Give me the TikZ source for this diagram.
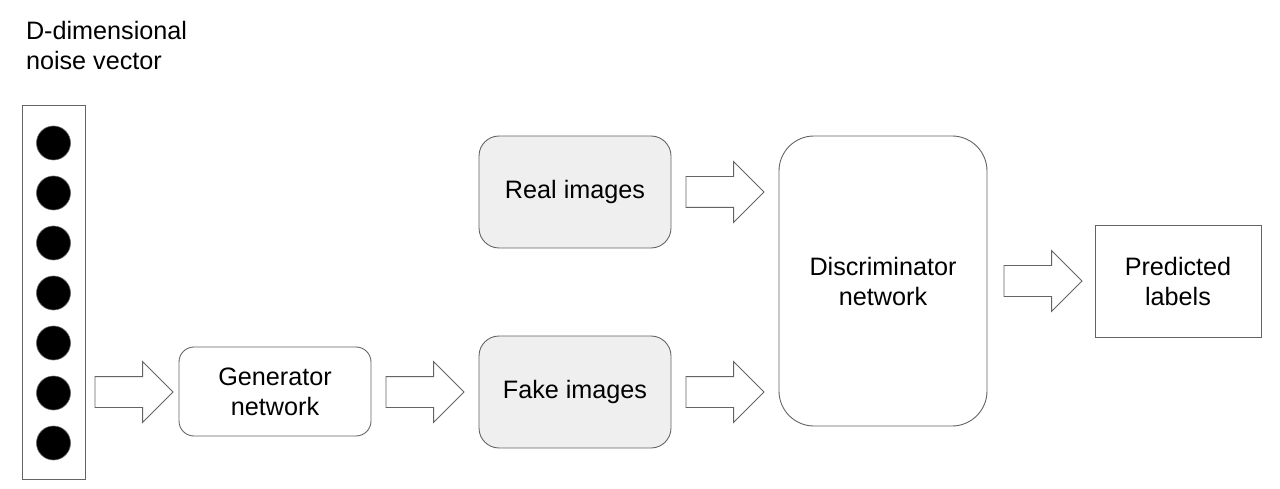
\documentclass[tikz,border=0pt]{standalone}
\usepackage{fontspec}
\setmainfont{Liberation Sans}
\usetikzlibrary{shapes.arrows}
\definecolor{edge}{RGB}{100,100,100}
\definecolor{boxfill}{RGB}{239,239,239}
\begin{document}
\begin{tikzpicture}[x=1pt,y=-1pt,
  every node/.style={font=\fontsize{25.2}{30}\selectfont, inner sep=0pt, outer sep=0pt},
  box/.style={draw=edge, line width=0.9pt, align=center},
  rbox/.style={box, rounded corners=#1},
  dot/.style={circle, fill=black, draw=edge, line width=0.6pt, minimum size=34pt},
  barrow/.style={single arrow, draw=edge, fill=white, line width=0.9pt,
    inner xsep=0pt, inner ysep=15pt, minimum height=78pt, single arrow head extend=15pt,
    single arrow head indent=0pt, anchor=tail}]
\useasboundingbox (0,0) rectangle (1280,489);
\node[anchor=north west, align=left] (title) at (26,21) {D-dimensional\\noise vector};
\node[box, minimum width=63pt, minimum height=374pt] (noise) at (53.5,292) {};
\foreach \k in {0,...,6} {
  \node[dot] (d\k) at (53.5,{143+50*\k}) {};
}
\node[rbox=15pt, minimum width=192pt, minimum height=89pt] (gen) at (275,391.5) {Generator\\network};
\node[rbox=20pt, fill=boxfill, minimum width=192pt, minimum height=112pt] (real) at (575,192) {Real images};
\node[rbox=20pt, fill=boxfill, minimum width=192pt, minimum height=112pt] (fake) at (575,392) {Fake images};
\node[rbox=35pt, minimum width=208pt, minimum height=290pt] (disc) at (883,281) {Discriminator\\network};
\node[box, minimum width=166pt, minimum height=112pt] (pred) at (1178,281) {Predicted\\labels};
\node[barrow] (a1) at (95,392) {};
\node[barrow] (a2) at (386,392) {};
\node[barrow] (a3) at (686,192) {};
\node[barrow] (a4) at (686,392) {};
\node[barrow] (a5) at (1004,281) {};
\end{tikzpicture}
\end{document}
